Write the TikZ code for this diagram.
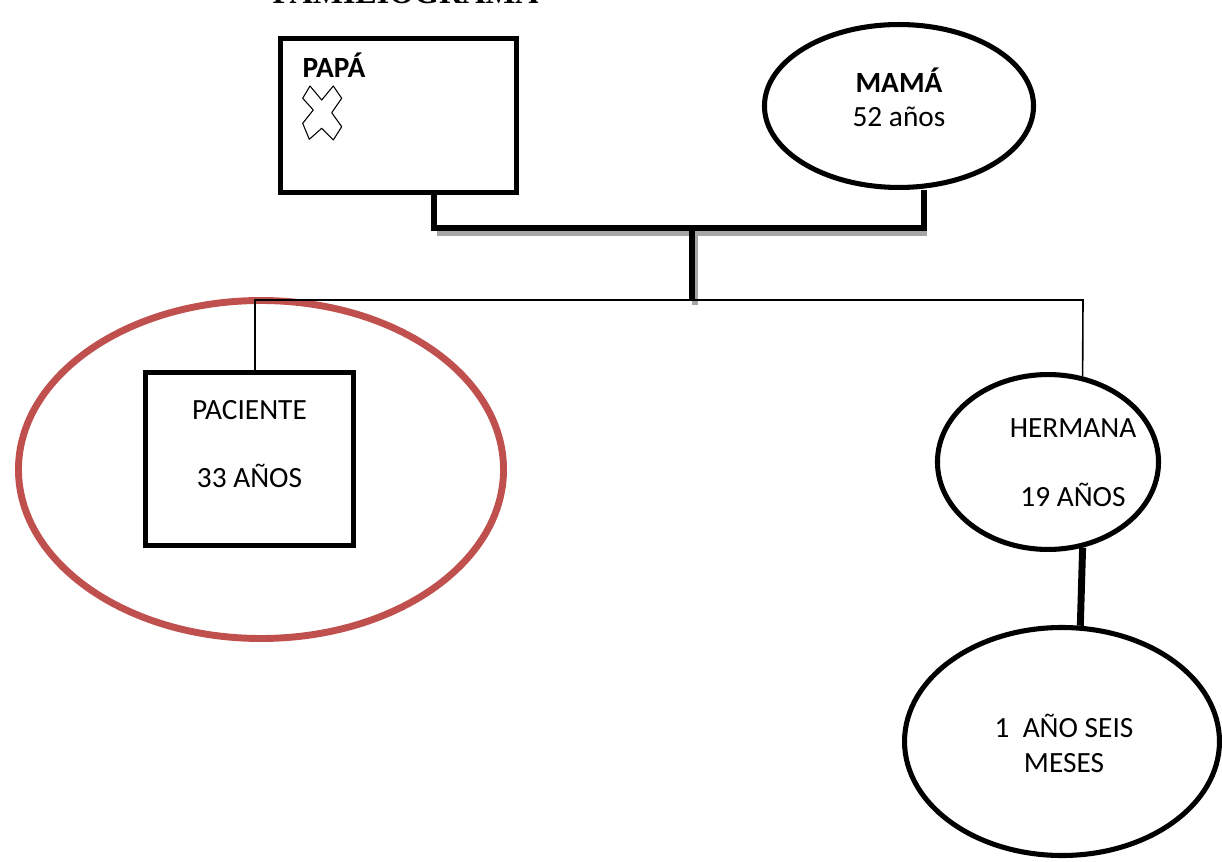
\documentclass[tikz,border=0pt]{standalone}
\usepackage{fontspec}
\setmainfont{Carlito}
\newfontfamily\titlefont{Liberation Serif}
\usepackage{xcolor}
\usetikzlibrary{shapes.geometric}

\definecolor{focored}{HTML}{C0504D}
\definecolor{bondgray}{HTML}{A6A6A6}

\begin{document}
\begin{tikzpicture}[x=0.375pt, y=-0.375pt,
    font=\fontsize{11pt}{13pt}\selectfont,
    txt/.style={inner sep=0pt, anchor=base},
    sqbox/.style={draw, line width=1.9pt, rectangle, inner sep=0pt},
    oval/.style={draw, line width=1.9pt, ellipse, inner sep=0pt},
    bond/.style={line width=2.6pt},
    thinlink/.style={line width=0.6pt}]
  \useasboundingbox (0,0) rectangle (1222,862);
  \clip (0,0) rectangle (1222,862);

  \node[inner sep=0pt, anchor=base west, font=\titlefont\bfseries\fontsize{12pt}{14pt}\selectfont] (title) at (272,4) {FAMILIOGRAMA};

  % padres
  \node[sqbox, minimum width=88.5pt, minimum height=57.75pt] (papa) at (398.5,115.5) {};
  \node[oval, minimum width=100.9pt, minimum height=61.1pt] (mama) at (899,106) {};
  \node[txt, anchor=base west] (papat) at (302,78) {\bfseries PAPÁ};
  \draw[line width=0.4pt, line join=round] (310,86) -- (302.7,98.3) -- (313.3,110) -- (302.7,123.3)
    -- (309.3,139.3) -- (321.7,128.3) -- (333.3,140) -- (341.7,126.7) -- (331.7,112.7)
    -- (341.7,98.3) -- (333.3,86) -- (321.7,100) -- cycle;

  % hijos
  \node[draw=focored, line width=2.6pt, ellipse, inner sep=0pt, minimum width=181.9pt, minimum height=126.75pt] (foco) at (261,469.5) {};
  \node[sqbox, minimum width=78pt, minimum height=64.9pt] (pac) at (249.5,459) {};
  \node[oval, minimum width=82.9pt, minimum height=65.6pt] (her) at (1048,462) {};
  \node[oval, minimum width=118.1pt, minimum height=85.5pt] (kid) at (1062,741.5) {};

  \foreach \n/\x/\y/\t in {mamat/899/93/{\bfseries MAMÁ}, edadm/899/127/52 años,
      pact/249.5/420/PACIENTE, edadp/249.5/488/33 AÑOS,
      hert/1073/438/HERMANA, edadh/1073/507/19 AÑOS,
      kidt/1064/737/1\ \ AÑO SEIS, kidm/1064/772/MESES} {
    \node[txt] (\n) at (\x,\y) {\t};
  }

  \coordinate (pj) at (434,228);
  \coordinate (mj) at (924,228);
  \coordinate (cj) at (692,228);
  \coordinate (cd) at (692,300);
  \coordinate (sl) at (255,300);
  \coordinate (sr) at (1083,300);

  % sombra
  \draw[bond, bondgray] ([shift={(3,5)}]pj) -- ([shift={(3,5)}]mj);
  \draw[bond, bondgray] ([shift={(3,5)}]cj) -- ([shift={(3,5)}]cd);
  \draw[bond] (papa.south -| pj) -- (pj) -- (mj) -- (mama.south -| mj);
  \draw[bond] (cj) -- (cd);

  \draw[thinlink] (pac.north -| sl) -- (sl) -- (sr) -- (her.68);
  \draw[bond] (her.292) -- (kid.81);
\end{tikzpicture}
\end{document}
